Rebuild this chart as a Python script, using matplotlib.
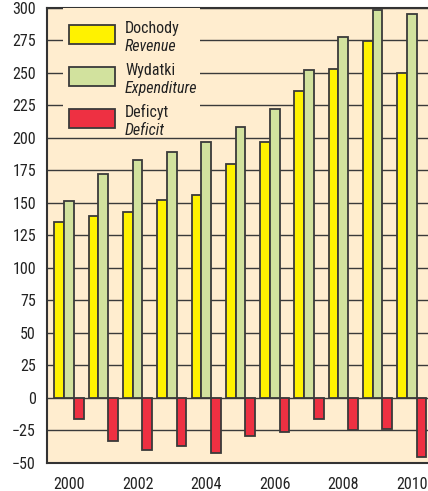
import matplotlib
matplotlib.use("Agg")
import matplotlib.pyplot as plt
from matplotlib.patches import Rectangle

# budget data, bn PLN
years = [2000, 2001, 2002, 2003, 2004, 2005, 2006, 2007, 2008, 2009, 2010]
revenue = [135, 140, 143, 152, 156, 180, 197, 236, 253, 274, 250]
expenditure = [151, 172, 183, 189, 197, 208, 222, 252, 277, 298, 295]
deficit = [-16, -33, -40, -37, -42, -29, -26, -16, -25, -24, -45]

yticks = list(range(-50, 301, 25))
xticks = [2000, 2002, 2004, 2006, 2008, 2010]

series_pl = ['Dochody', 'Wydatki', 'Deficyt']
series_en = ['Revenue', 'Expenditure', 'Deficit']
colors = ['#FFF200', '#D2E29E', '#EE3042']

plt.rcParams['font.family'] = ['Liberation Sans Narrow', 'Roboto Condensed', 'DejaVu Sans']

bg = '#FFEDCF'
edge = '#3a3a3a'
w = 0.283

fig = plt.figure(figsize=(4.28, 4.91), dpi=100)
ax = fig.add_axes([0.1098, 0.057, 0.8902, 0.9277])
ax.set_facecolor(bg)

ax.bar([x - w for x in years], revenue, width=w, color=colors[0], edgecolor=edge, linewidth=1.3, zorder=3)
ax.bar(years, expenditure, width=w, color=colors[1], edgecolor=edge, linewidth=1.3, zorder=3)
ax.bar([x + w for x in years], deficit, width=w, color=colors[2], edgecolor=edge, linewidth=1.3, zorder=3)

ax.set_ylim(-50, 300)
ax.set_xlim(1999.36, 2010.47)
ax.set_yticks(yticks)
ax.set_xticks(xticks)
ax.tick_params(axis='both', length=0, labelsize=11.5, colors='#222222')
ax.tick_params(axis='y', pad=8)
ax.tick_params(axis='x', pad=10)
ax.grid(axis='y', color='#3a3a3a', linewidth=1.0, zorder=1)
ax.set_axisbelow(True)

for s in ['left', 'top', 'bottom']:
    ax.spines[s].set_color('#333333')
    ax.spines[s].set_linewidth(1.5)
ax.spines['right'].set_visible(False)

# hand-made legend (two-line labels, second line in italics)
ax.add_patch(Rectangle((0.042, 0.7245), 0.36, 0.2745, transform=ax.transAxes,
                       facecolor=bg, edgecolor='none', zorder=4))
for i in range(3):
    dy = i * 0.0925
    ax.add_patch(Rectangle((0.0577, 0.9199 - dy), 0.1207, 0.0417, transform=ax.transAxes,
                           facecolor=colors[i], edgecolor=edge, linewidth=1.3, zorder=5))
    ax.text(0.2047, 0.9440 - dy, series_pl[i], transform=ax.transAxes, fontsize=11.5,
            va='baseline', ha='left', color='#222222', zorder=6)
    ax.text(0.2047, 0.9056 - dy, series_en[i], transform=ax.transAxes, fontsize=11.5,
            style='italic', va='baseline', ha='left', color='#222222', zorder=6)

fig.savefig('out.png', dpi=100)
